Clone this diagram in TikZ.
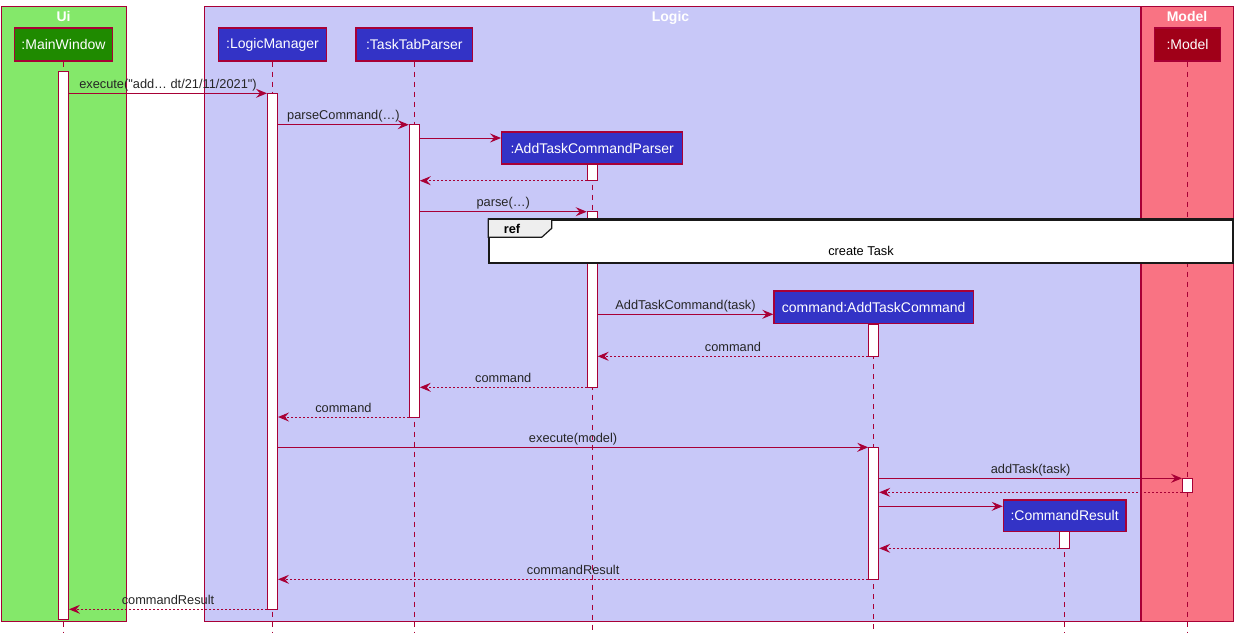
\documentclass[tikz,border=0pt]{standalone}
\usepackage{fontspec}
\setmainfont{Liberation Sans}[Ligatures=TeXOff]
\usetikzlibrary{arrows.meta}
\definecolor{bord}{HTML}{A80036}
\definecolor{uifill}{HTML}{84E86A}
\definecolor{mwfill}{HTML}{1F8A00}
\definecolor{logicfill}{HTML}{C8C8F8}
\definecolor{partfill}{HTML}{3333C6}
\definecolor{modelfill}{HTML}{F97383}
\definecolor{modelpart}{HTML}{A00018}
\definecolor{tabfill}{HTML}{EEEEEE}
\tikzset{
  grp/.style={draw=bord, line width=1pt},
  grptitle/.style={font=\fontsize{14}{16}\selectfont\bfseries, text=white, anchor=base, inner sep=0pt},
  part/.style={draw=bord, line width=1.3pt, fill=partfill, text=white, font=\fontsize{14}{16}\selectfont, minimum height=33pt, inner sep=0pt},
  life/.style={draw=bord, line width=0.9pt, dash pattern=on 5pt off 5pt},
  act/.style={draw=bord, line width=1pt, fill=white, minimum width=10pt, inner sep=0pt},
  msg/.style={draw=bord, line width=1pt, -{Stealth[length=11pt,width=9pt,inset=4pt]}},
  ret/.style={msg, dash pattern=on 2pt off 2pt},
  lbl/.style={font=\fontsize{12.8}{14}\selectfont, text=black!85, anchor=base, inner sep=0pt},
}
\begin{document}
\begin{tikzpicture}[x=1pt,y=-1pt]
\useasboundingbox (0,0) rectangle (1238,633);
% groups
\draw[grp, fill=uifill] (1,6.5) rectangle (126.5,621);
\draw[grp, fill=logicfill] (204.5,6.5) rectangle (1140,621);
\draw[grp, fill=modelfill] (1141.5,6.5) rectangle (1233,621);
\node[grptitle] (tui) at (63.5,21.7) {Ui};
\node[grptitle] (tlogic) at (670.5,21.7) {Logic};
\node[grptitle] (tmodel) at (1187,21.7) {Model};
% participants
\node[part, fill=mwfill, minimum width=98pt] (mw) at (63.5,44.5) {:MainWindow};
\node[part, minimum width=108.5pt] (lm) at (272.5,44.5) {:LogicManager};
\node[part, minimum width=116.5pt] (ttp) at (414.3,44.5) {:TaskTabParser};
\node[part, fill=modelpart, minimum width=65.5pt] (mdl) at (1187.5,44.5) {:Model};
\node[part, minimum width=181pt, minimum height=32pt] (atcp) at (592.2,148) {:AddTaskCommandParser};
\node[part, minimum width=199.5pt, minimum height=32.7pt] (atc) at (873.7,307.3) {command:AddTaskCommand};
\node[part, minimum width=122.5pt, minimum height=31.7pt] (cr) at (1064.6,515.8) {:CommandResult};
% lifelines
\coordinate (mwEnd) at (63.5,633);
\coordinate (lmEnd) at (272.5,633);
\coordinate (ttpEnd) at (414.3,633);
\coordinate (atcpEnd) at (592.2,633);
\coordinate (atcEnd) at (873.7,633);
\coordinate (crEnd) at (1064.6,633);
\coordinate (mdlEnd) at (1187.5,633);
\draw[life] (mw.south) -- (mwEnd);
\draw[life] (lm.south) -- (lmEnd);
\draw[life] (ttp.south) -- (ttpEnd);
\draw[life] (atcp.south) -- (atcpEnd);
\draw[life] (atc.south) -- (atcEnd);
\draw[life] (cr.south) -- (crEnd);
\draw[life] (mdl.south) -- (mdlEnd);
% activations
\node[act, minimum height=548pt] (amw) at (63.5,345) {};
\node[act, minimum height=516pt] (alm) at (272.5,351.3) {};
\node[act, minimum height=292.3pt] (attp) at (414.3,270.85) {};
\node[act, minimum height=16.7pt] (aatcp1) at (592.2,172.35) {};
\node[act, minimum height=175.6pt] (aatcp2) at (592.2,299.5) {};
\node[act, minimum height=32.3pt] (aatc1) at (873.7,340.15) {};
\node[act, minimum height=132pt] (aatc2) at (873.7,513.3) {};
\node[act, minimum height=14pt] (amdl) at (1187.5,485.3) {};
\node[act, minimum height=16.6pt] (acr) at (1064.6,540) {};
% messages
\draw[msg] (amw.east |- 0,93.3) -- (alm.west |- 0,93.3)
  node[lbl, midway, yshift=4.8pt] (l1) {execute("add… dt/21/11/2021")};
\draw[msg] (alm.east |- 0,124.7) -- (attp.west |- 0,124.7)
  node[lbl, midway, yshift=4.8pt] (l2) {parseCommand(…)};
\draw[msg] (attp.east |- 0,138) -- (atcp.west |- 0,138);
\draw[ret] (aatcp1.west |- 0,180.7) -- (attp.east |- 0,180.7);
\draw[msg] (attp.east |- 0,211.7) -- (aatcp2.west |- 0,211.7)
  node[lbl, midway, yshift=4.8pt] (l3) {parse(…)};
\draw[msg] (aatcp2.east |- 0,314.3) -- (atc.west |- 0,314.3)
  node[lbl, midway, yshift=4.8pt] (l4) {AddTaskCommand(task)};
\draw[ret] (aatc1.west |- 0,356.3) -- (aatcp2.east |- 0,356.3)
  node[lbl, midway, yshift=4.8pt] (l5) {command};
\draw[ret] (aatcp2.west |- 0,387.3) -- (attp.east |- 0,387.3)
  node[lbl, midway, yshift=4.8pt] (l6) {command};
\draw[ret] (attp.west |- 0,417) -- (alm.east |- 0,417)
  node[lbl, midway, yshift=4.8pt] (l7) {command};
\draw[msg] (alm.east |- 0,447.3) -- (aatc2.west |- 0,447.3)
  node[lbl, midway, yshift=4.8pt] (l8) {execute(model)};
\draw[msg] (aatc2.east |- 0,478.3) -- (amdl.west |- 0,478.3)
  node[lbl, midway, yshift=4.8pt] (l9) {addTask(task)};
\draw[ret] (amdl.west |- 0,492.3) -- (aatc2.east |- 0,492.3);
\draw[msg] (aatc2.east |- 0,506.3) -- (cr.west |- 0,506.3);
\draw[ret] (acr.west |- 0,548.3) -- (aatc2.east |- 0,548.3);
\draw[ret] (aatc2.west |- 0,579.3) -- (alm.east |- 0,579.3)
  node[lbl, midway, yshift=4.8pt] (l10) {commandResult};
\draw[ret] (alm.west |- 0,609.3) -- (amw.east |- 0,609.3)
  node[lbl, midway, yshift=4.8pt] (l11) {commandResult};
% ref frame
\node[draw=black!90, line width=1.6pt, fill=white, minimum width=743.7pt, minimum height=42.7pt, inner sep=0pt, anchor=north west] (ref) at (488.3,219) {};
\draw[black!90, line width=1.2pt, fill=tabfill] (ref.north west) -- (551.7,219) -- (551.7,228.3) -- (541.7,237.3) -- (488.3,237.3) -- cycle;
\draw[black!90, line width=1.6pt] (ref.north west) rectangle (ref.south east);
\node[font=\fontsize{12.8}{14}\selectfont\bfseries, anchor=base, inner sep=0pt] (reft) at (512,233) {ref};
\node[lbl, text=black] (refl) at (861,255.3) {create Task};
\end{tikzpicture}
\end{document}
